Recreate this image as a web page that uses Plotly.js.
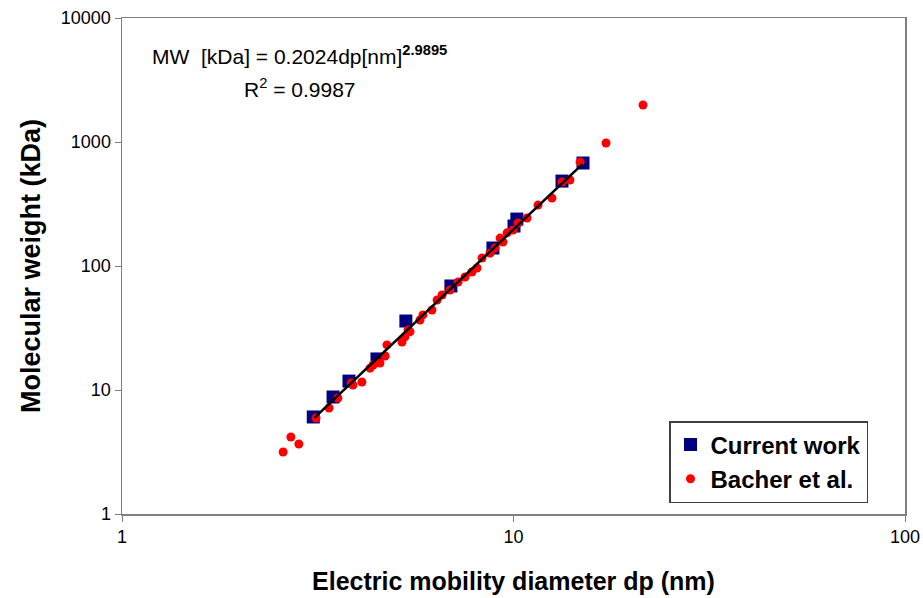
<!DOCTYPE html>
<html>
<head>
<meta charset="utf-8">
<script src="https://cdn.plot.ly/plotly-3.0.1.min.js"></script>
<style>html,body{margin:0;padding:0;background:#fff;}#chart{width:923px;height:598px;}</style>
</head>
<body>
<div id="chart"></div>
<script>
// Current work (squares)
var currentDp = [3.08, 3.46, 3.80, 4.48, 5.31, 6.92, 8.86, 10.03, 10.2, 13.3, 15.05];
var currentMW = [6.06, 8.78, 11.8, 17.8, 36.0, 69.0, 139.7, 210, 239, 484, 677];

// Bacher et al. (dots)
var bacherDp = [2.58, 2.70, 2.83, 3.13, 3.38, 3.56, 3.85, 3.89, 4.10, 4.30, 4.38, 4.56, 4.70, 4.75,
                5.19, 5.28, 5.38, 5.44, 5.77, 5.87, 6.19, 6.38, 6.57, 6.88, 7.22, 7.52, 7.83, 8.07,
                8.31, 8.71, 8.97, 9.24, 9.40, 9.63, 9.97, 10.27, 10.83, 11.55, 12.54, 13.30, 13.94,
                14.79, 17.23, 21.42];
var bacherMW = [3.16, 4.18, 3.67, 5.95, 7.16, 8.62, 11.39, 10.97, 11.6, 15.0, 15.9, 16.5, 18.8, 23.1,
                24.4, 26.8, 30.5, 29.5, 36.7, 40.3, 44.2, 53.2, 58.4, 64.0, 74.3, 81.5, 89.5, 96.4,
                116, 127, 140, 168, 156, 185, 195, 222, 244, 310, 353, 476, 494,
                690, 982, 1988];

// Power-law fit line endpoints
var fitDp = [3.1, 15.0];
var fitMW = [5.96, 663];

var xTickVals = [1, 10, 100];
var xTickText = ["1", "10", "100"];
var yTickVals = [1, 10, 100, 1000, 10000];
var yTickText = ["1", "10", "100", "1000", "10000"];

var FONT = "Liberation Sans, Arial, Helvetica, sans-serif";

var traces = [
  {x: currentDp, y: currentMW, mode: "markers", type: "scatter", name: "<b>Current work</b>",
   marker: {symbol: "square", size: 13, color: "#000080"}},
  {x: bacherDp, y: bacherMW, mode: "markers", type: "scatter", name: "<b>Bacher et al.</b>",
   marker: {symbol: "circle", size: 9, color: "#ff0000"}},
  {x: fitDp, y: fitMW, mode: "lines", type: "scatter", showlegend: false, hoverinfo: "skip",
   line: {color: "#000000", width: 2.5}}
];

var layout = {
  width: 923, height: 598,
  margin: {l: 122, r: 18, t: 18, b: 84},
  paper_bgcolor: "#ffffff", plot_bgcolor: "#ffffff",
  font: {family: FONT, color: "#000000"},
  xaxis: {
    type: "log", range: [0, 2], tickvals: xTickVals, ticktext: xTickText,
    showgrid: false, zeroline: false, showline: true, mirror: true,
    linecolor: "#808080", linewidth: 1.5, ticks: "outside", ticklen: 6, tickcolor: "#808080",
    tickfont: {size: 18, family: FONT, color: "#000"},
    title: {text: "<b>Electric mobility diameter dp (nm)</b>", font: {size: 25, family: FONT, color: "#000"}, standoff: 26}
  },
  yaxis: {
    type: "log", range: [0, 4], tickvals: yTickVals, ticktext: yTickText,
    showgrid: false, zeroline: false, showline: true, mirror: true,
    linecolor: "#808080", linewidth: 1.5, ticks: "outside", ticklen: 6, tickcolor: "#808080",
    tickfont: {size: 18, family: FONT, color: "#000"},
    title: {text: "<b>Molecular weight (kDa)</b>", font: {size: 27, family: FONT, color: "#000"}, standoff: 12}
  },
  legend: {
    x: 0.6986, y: 0.1875, xanchor: "left", yanchor: "top",
    bgcolor: "#ffffff", bordercolor: "#404040", borderwidth: 1.5,
    font: {size: 24, family: FONT, color: "#000"},
    itemwidth: 30, tracegroupgap: 0
  },
  annotations: [{
    xref: "paper", yref: "paper", x: 0.2273, y: (514 - 55) / 496, xanchor: "center", yanchor: "middle",
    showarrow: false,
    text: "MW  [kDa] = 0.2024dp[nm]<sup><b>2.9895</b></sup>",
    font: {size: 21, family: FONT, color: "#000"}
  }, {
    xref: "paper", yref: "paper", x: 0.2273, y: (514 - 88) / 496, xanchor: "center", yanchor: "middle",
    showarrow: false,
    text: "R<sup>2</sup> = 0.9987",
    font: {size: 21, family: FONT, color: "#000"}
  }]
};

Plotly.newPlot("chart", traces, layout, {displayModeBar: false, staticPlot: true});
</script>
</body>
</html>
